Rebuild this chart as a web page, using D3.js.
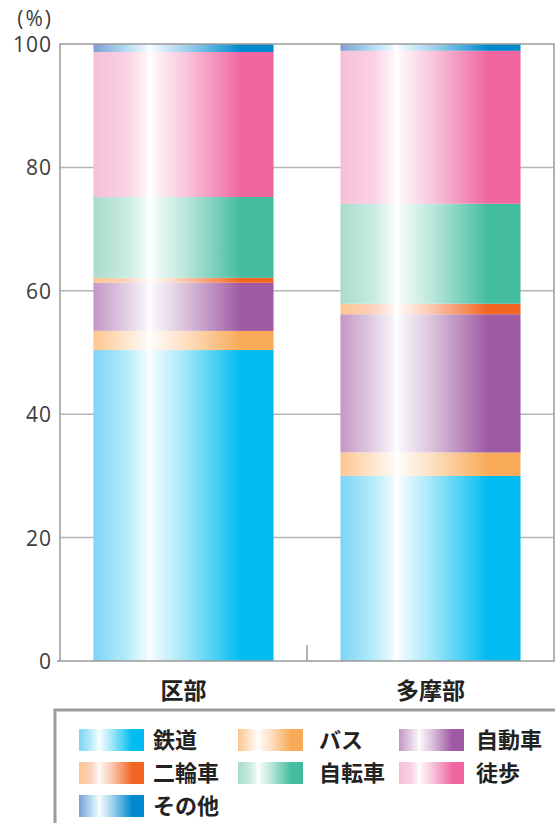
<!DOCTYPE html>
<html>
<head>
<meta charset="utf-8">
<script src="https://cdn.jsdelivr.net/npm/d3@7"></script>
<style>
  body { margin: 0; background: #fff; }
  svg { display: block; }
  .tick-label { font-family: "Open Sans", sans-serif; font-weight: 400; fill: #3c3c3c; }
  .jp { font-family: "Noto Sans CJK JP", sans-serif; font-weight: 700; fill: #222; }
</style>
</head>
<body>
<div id="chart"></div>
<script>
// categories and modes
var categories = ["区部", "多摩部"];
var modes = ["鉄道", "バス", "自動車", "二輪車", "自転車", "徒歩", "その他"];

// shares (%) per mode
var railShare    = [50.4, 30.0];
var busShare     = [3.1, 3.8];
var carShare     = [7.8, 22.4];
var motoShare    = [0.8, 1.7];
var bicycleShare = [13.1, 16.2];
var walkShare    = [23.5, 24.8];
var otherShare   = [1.3, 1.1];

var yTicks = [0, 20, 40, 60, 80, 100];

// full colour (right side) and pale colour (left side) of each gradient
var baseColors  = ["#00bcf0", "#f8aa58", "#9e5aa2", "#f26522", "#44bc9f", "#ef66a1", "#0089cf"];
var paleColors  = ["#7fd3f6", "#fdc68f", "#c497c6", "#fdc68f", "#a9dccb", "#f6bfd8", "#7e9ed5"];

var seriesValues = [railShare, busShare, carShare, motoShare, bicycleShare, walkShare, otherShare];

var rows = categories.map(function(c, i) {
    var r = {cat: c};
    modes.forEach(function(m, k) { r[m] = seriesValues[k][i]; });
    return r;
});

var W = 555, H = 823;
var plotLeft = 60, plotRight = 554, plotTop = 44, plotBottom = 661;

var svg = d3.select("#chart").append("svg")
    .attr("width", W)
    .attr("height", H);

// gradients: pale on the left, white streak near a third, full colour at the right
var defs = svg.append("defs");
modes.forEach(function(m, k) {
    var base = d3.color(baseColors[k]), pale = d3.color(paleColors[k]);
    var mix = function(t) { return d3.interpolateRgb("#ffffff", base)(t); };
    var g = defs.append("linearGradient")
        .attr("id", "grad" + k)
        .attr("x1", "0%").attr("x2", "100%")
        .attr("y1", "0%").attr("y2", "0%");
    var stops = [
        [0, pale.formatHex()],
        [0.18, mix(0.3)],
        [0.29, mix(0.08)],
        [0.31, "#ffffff"],
        [0.34, mix(0.08)],
        [0.5, mix(0.35)],
        [0.82, base.formatHex()],
        [1, base.formatHex()]
    ];
    stops.forEach(function(s) {
        g.append("stop").attr("offset", s[0]).attr("stop-color", s[1]);
    });
});

var x = d3.scaleBand().domain(categories).range([plotLeft, plotRight]).padding(0);
var barW = x.bandwidth() * 0.729;
var y = d3.scaleLinear().domain([0, 100]).range([plotBottom, plotTop]);

// grid lines
svg.append("g").selectAll("line")
    .data(yTicks.filter(function(t) { return t > 0 && t < 100; }))
    .enter().append("line")
    .attr("x1", plotLeft).attr("x2", plotRight)
    .attr("y1", function(d) { return y(d); })
    .attr("y2", function(d) { return y(d); })
    .attr("stroke", "#b5b5b5")
    .attr("stroke-width", 1.5);

// stacked bars
var stack = d3.stack().keys(modes)(rows);
svg.append("g").selectAll("g")
    .data(stack)
    .enter().append("g")
    .attr("fill", function(d, k) { return "url(#grad" + k + ")"; })
    .selectAll("rect")
    .data(function(d) { return d; })
    .enter().append("rect")
    .attr("x", function(d) { return x(d.data.cat) + (x.bandwidth() - barW) / 2; })
    .attr("width", barW)
    .attr("y", function(d) { return y(d[1]); })
    .attr("height", function(d) { return y(d[0]) - y(d[1]); });

// frame
var frame = svg.append("g").attr("stroke", "#9a9a9a").attr("stroke-width", 1.5).attr("fill", "none");
frame.append("path").attr("d", "M" + plotLeft + "," + plotBottom + "V" + plotTop + "H" + plotRight + "V" + plotBottom);
frame.append("line").attr("x1", 57).attr("x2", W).attr("y1", plotBottom).attr("y2", plotBottom);
frame.append("line")
    .attr("x1", x(categories[1])).attr("x2", x(categories[1]))
    .attr("y1", plotBottom).attr("y2", plotBottom - 16);

// y tick labels
svg.append("g").selectAll("text")
    .data(yTicks)
    .enter().append("text")
    .attr("class", "tick-label")
    .attr("x", 52)
    .attr("y", function(d) { return y(d) + 8; })
    .attr("text-anchor", "end")
    .attr("font-size", 21)
    .attr("letter-spacing", 1)
    .text(function(d) { return d; });

svg.append("text")
    .attr("class", "tick-label")
    .attr("x", 53).attr("y", 26)
    .attr("text-anchor", "end")
    .attr("font-size", 21)
    .attr("letter-spacing", 2)
    .text("(%)");

// category labels
svg.append("g").selectAll("text")
    .data(categories)
    .enter().append("text")
    .attr("class", "jp")
    .attr("x", function(d) { return x(d) + x.bandwidth() / 2; })
    .attr("y", 699)
    .attr("text-anchor", "middle")
    .attr("font-size", 23)
    .text(function(d) { return d; });

// legend
svg.append("path")
    .attr("d", "M55," + H + "V710H" + (W + 5))
    .attr("fill", "none")
    .attr("stroke", "#9c9c9c")
    .attr("stroke-width", 3);

var colX = [79, 238, 399], textOff = [74, 81, 77];
var legend = svg.append("g").selectAll("g")
    .data(modes)
    .enter().append("g")
    .attr("transform", function(d, i) {
        return "translate(" + colX[i % 3] + "," + (729 + Math.floor(i / 3) * 33) + ")";
    });
legend.append("rect")
    .attr("width", 65).attr("height", 22)
    .attr("fill", function(d, i) { return "url(#grad" + i + ")"; });
legend.append("text")
    .attr("class", "jp")
    .attr("x", function(d, i) { return textOff[i % 3]; })
    .attr("y", 19)
    .attr("font-size", 22)
    .text(function(d) { return d; });
</script>
</body>
</html>
